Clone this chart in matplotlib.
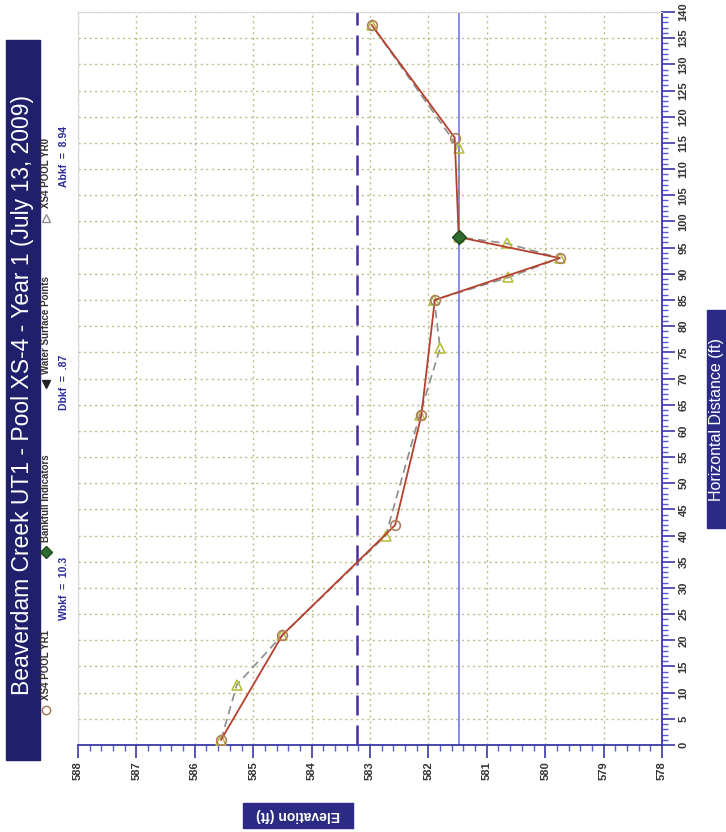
import matplotlib.pyplot as plt
from matplotlib.lines import Line2D
from matplotlib.patches import Rectangle
from matplotlib.ticker import MultipleLocator

plt.rcParams['font.family'] = ['Liberation Sans', 'DejaVu Sans']

# Survey data (horizontal distance ft, elevation ft)
yr1_dist = [1, 21, 42, 63, 85, 93, 97, 116, 137.5]
yr1_elev = [585.55, 584.5, 582.57, 582.12, 581.89, 579.75, 581.48, 581.55, 582.97]

yr0_dist = [1, 11.5, 21, 40, 63, 75.8, 85, 89.3, 93, 95.8, 97, 114, 137.5]
yr0_elev = [585.55, 585.28, 584.5, 582.73, 582.15, 581.8, 581.9, 580.63, 579.75, 580.66, 581.48, 581.48, 582.97]

bankfull_dist = [97]
bankfull_elev = [581.48]

bankfull_line = 583.22
water_surface = 581.48

dist_ticks = list(range(0, 145, 5))
elev_ticks = list(range(578, 589))

W, H = 726, 832


def fx(x):
    return x / W


def fy(y):
    return 1 - y / H


fig = plt.figure(figsize=(W / 100, H / 100), dpi=100)
ax = fig.add_axes([fx(78), fy(745), fx(662) - fx(78), fy(12) - fy(745)])

# chart is drawn rotated: elevation along the bottom, distance up the right side
ax.plot(yr1_elev, yr1_dist, color='#b5402e', lw=1.3, marker='o', ms=7,
        mfc='none', mec='#b08060', mew=1.2, zorder=4)
ax.plot(yr0_elev, yr0_dist, color='#8c8c8c', lw=1.2, ls=(0, (5, 3)), marker='^', ms=7,
        mfc='none', mec='#b8c040', mew=1.2, zorder=3)
ax.plot(bankfull_elev, bankfull_dist, ls='none', marker='D', ms=7,
        mfc='#2e6b2e', mec='#1e4a1e', zorder=5)

ax.axvline(bankfull_line, color='#4b2ca0', lw=1.8, ls=(0, (8, 4)), zorder=2)
ax.axvline(water_surface, color='#6a6ae6', lw=1.1, zorder=2)

ax.set_xlim(588, 578)
ax.set_ylim(0, 140)

ax.xaxis.set_major_locator(MultipleLocator(1))
ax.xaxis.set_minor_locator(MultipleLocator(0.2))
ax.yaxis.set_major_locator(MultipleLocator(5))
ax.yaxis.set_minor_locator(MultipleLocator(1))
ax.set_xticks(elev_ticks)
ax.set_yticks(dist_ticks)

ax.yaxis.tick_right()
ax.tick_params(axis='both', which='major', direction='out', length=9, width=1.2,
               color='#3a3aa8', labelsize=8, labelcolor='#333333', pad=3)
ax.tick_params(axis='both', which='minor', direction='out', length=4, width=1,
               color='#5a5ad0')
ax.tick_params(axis='x', labelrotation=90)
ax.tick_params(axis='y', labelrotation=90)
for lab in ax.get_xticklabels() + ax.get_yticklabels():
    lab.set_fontweight('bold')
for lab in ax.get_yticklabels():
    lab.set_verticalalignment('center')

ax.grid(True, which='major', color='#bdbd88', ls=(0, (1.5, 2.5)), lw=1.0)

for side in ['bottom', 'right']:
    ax.spines[side].set_color('#3a3aa8')
    ax.spines[side].set_linewidth(1.3)
for side in ['top', 'left']:
    ax.spines[side].set_color('#d8d8d8')
    ax.spines[side].set_linewidth(0.8)

# title box
fig.add_artist(Rectangle((fx(6), fy(760)), fx(40) - fx(6), fy(40) - fy(760),
                         transform=fig.transFigure, color='#1f1f6b', zorder=1))
fig.text(fx(23), fy(395), 'Beaverdam Creek UT1 - Pool XS-4 - Year 1 (July 13, 2009)',
         rotation=90, ha='center', va='center', color='white', fontsize=16.5, zorder=2)

# axis title boxes
fig.add_artist(Rectangle((fx(707), fy(528)), fx(730) - fx(707), fy(310) - fy(528),
                         transform=fig.transFigure, color='#2b2b85', zorder=1))
fig.text(fx(717), fy(419), 'Horizontal Distance (ft)', rotation=90, ha='center',
         va='center', color='white', fontsize=11.5, zorder=2)

fig.add_artist(Rectangle((fx(243), fy(828)), fx(353) - fx(243), fy(803) - fy(828),
                         transform=fig.transFigure, color='#2b2b85', zorder=1))
fig.text(fx(298), fy(815.5), 'Elevation (ft)', rotation=180, ha='center',
         va='center', color='white', fontsize=10, fontweight='bold', zorder=2)

# legend (rotated, placed by hand)
legend_items = [
    (710, 700, 'o', 'none', '#a07050', 'XS4 POOL YR1'),
    (552, 542, 'D', '#2e6b2e', '#1e4a1e', 'Bankfull Indicators'),
    (384, 374, 'v', '#222222', '#222222', 'Water Surface Points'),
    (218, 208, '^', 'none', '#909090', 'XS4 POOL YR0'),
]
for my, ty, mk, fc, ec, label in legend_items:
    fig.add_artist(Line2D([fx(46)], [fy(my)], transform=fig.transFigure, marker=mk,
                          ms=6, mfc=fc, mec=ec, mew=1.0, ls='none'))
    fig.text(fx(46), fy(ty), label, rotation=90, ha='center', va='bottom',
             fontsize=7, fontweight='bold', color='#333333')

stats = [(620, 'Wbkf  =  10.3'), (410, 'Dbkf  =  .87'), (187, 'Abkf  =  8.94')]
for ty, label in stats:
    fig.text(fx(64), fy(ty), label, rotation=90, ha='center', va='bottom',
             fontsize=7.5, fontweight='bold', color='#2a2a9a')

fig.savefig('out.png', dpi=100, facecolor='white')
